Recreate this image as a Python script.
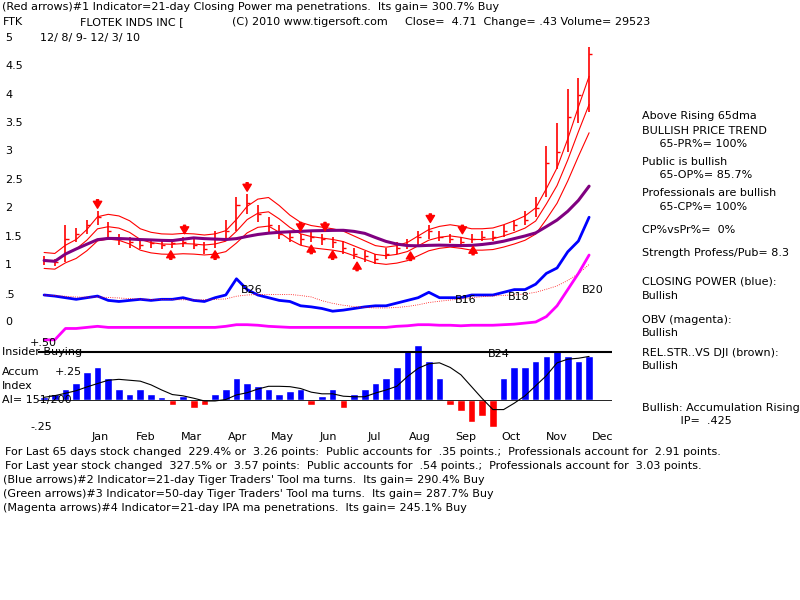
import numpy as np, pandas as pd, matplotlib
matplotlib.use("Agg")
import matplotlib.pyplot as plt, seaborn as sns

weeks = pd.date_range("2009-12-08", periods=52, freq="7D")
close = [1.08,1.05,1.45,1.55, 1.7,1.85,1.6,1.45, 1.4,1.35,1.38,1.35, 1.38,1.4,1.35,1.28,1.45,
         1.6,2.05,2.1,1.9, 1.7,1.55,1.5,1.45,1.5, 1.45,1.4,1.3,1.2, 1.15,1.1,1.2,1.3,
         1.35,1.5,1.6,1.5,1.45, 1.4,1.45,1.5,1.5, 1.6,1.7,1.8,2.0, 2.8,3.0,3.6,4.0,4.71]
high = [1.15,1.1,1.7,1.65, 1.8,1.95,1.75,1.55, 1.5,1.45,1.45,1.45, 1.45,1.5,1.45,1.4,1.6,
        1.8,2.2,2.25,2.05, 1.85,1.7,1.6,1.55,1.6, 1.55,1.5,1.42,1.3, 1.25,1.2,1.3,1.4,
        1.45,1.6,1.7,1.6,1.55, 1.5,1.55,1.6,1.6, 1.7,1.8,1.95,2.2, 3.1,3.5,4.1,4.3,4.85]
low = [1.0,0.98,1.05,1.4, 1.55,1.7,1.45,1.35, 1.3,1.28,1.3,1.28, 1.3,1.32,1.28,1.2,1.3,
       1.45,1.6,1.9,1.75, 1.55,1.45,1.4,1.35,1.4, 1.35,1.3,1.2,1.1, 1.05,1.02,1.1,1.2,
       1.28,1.35,1.45,1.42,1.38, 1.35,1.38,1.42,1.42, 1.5,1.6,1.7,1.85, 2.2,2.7,3.0,3.5,3.7]
cp = [0.5,0.48,0.45,0.42, 0.45,0.48,0.4,0.38, 0.4,0.42,0.4,0.42, 0.42,0.45,0.4,0.38,0.45,
      0.5,0.8,0.6,0.5, 0.45,0.4,0.38,0.3,0.28, 0.25,0.2,0.22,0.25, 0.28,0.3,0.3,0.35,
      0.4,0.45,0.55,0.45,0.45, 0.45,0.5,0.5,0.5, 0.55,0.6,0.6,0.7, 0.9,1.0,1.3,1.5,1.94]
obv = [-0.33,-0.33,-0.12,-0.12, -0.1,-0.08,-0.1,-0.1, -0.1,-0.1,-0.1,-0.1, -0.1,-0.1,-0.1,-0.1,-0.1,
       -0.08,-0.05,-0.05,-0.06, -0.08,-0.09,-0.1,-0.1,-0.1, -0.1,-0.1,-0.1,-0.1, -0.1,-0.1,-0.1,-0.08,
       -0.07,-0.05,-0.05,-0.06,-0.06, -0.07,-0.06,-0.06,-0.06, -0.05,-0.04,-0.02,0.0, 0.1,0.3,0.6,0.9,1.24]
accum = [0.02,0.05,0.1,0.15, 0.25,0.3,0.2,0.1, 0.05,0.1,0.05,0.02, -0.05,0.03,-0.08,-0.05,0.05,
         0.1,0.2,0.15,0.12, 0.1,0.05,0.08,0.1,-0.05, 0.03,0.1,-0.08,0.05, 0.1,0.15,0.2,0.3,
         0.45,0.5,0.35,0.2,-0.05, -0.1,-0.2,-0.15,-0.25, 0.2,0.3,0.3,0.35, 0.4,0.45,0.4,0.35,0.4]
red_down = ["2010-01-12","2010-03-10","2010-04-20","2010-05-25","2010-06-10","2010-08-18","2010-09-08"]
red_up = ["2010-03-01","2010-03-30","2010-06-01","2010-06-15","2010-07-01","2010-08-05","2010-09-15"]
months = ["Jan","Feb","Mar","Apr","May","Jun","Jul","Aug","Sep","Oct","Nov","Dec"]

df = pd.DataFrame({"date": weeks, "close": close, "high": high, "low": low})
df["ma21"] = df["close"].rolling(4, min_periods=1).mean()
df["ma65"] = df["close"].rolling(13, min_periods=1).mean()

sns.set_style("white")
plt.rcParams["text.color"] = "black"
fig = plt.figure(figsize=(8, 6), dpi=100)
ax = fig.add_axes([38/800, 1-435/600, (612-38)/800, 435/600])
PPU = (265 - 38) / 4.0
def p(px): return 1 - (px - 265) / PPU
ax.set_ylim(p(435), p(0))
ax.set_xlim(pd.Timestamp("2009-12-04"), pd.Timestamp("2010-12-15"))
for s in ax.spines.values(): s.set_visible(False)
ax.set_xticks([]); ax.set_yticks([])

ax.vlines(df["date"], df["low"], df["high"], color="red", lw=1.2)
ax.hlines(df["close"], df["date"], df["date"] + pd.Timedelta(days=2), color="red", lw=1)
sns.lineplot(x=df["date"], y=df["ma21"]*1.13, color="red", lw=0.8, ax=ax)
sns.lineplot(x=df["date"], y=df["ma21"]*0.87, color="red", lw=0.8, ax=ax)
sns.lineplot(x=df["date"], y=df["ma21"], color="red", lw=0.8, ax=ax)
sns.lineplot(x=df["date"], y=df["ma65"], color="#800080", lw=2.2, ax=ax)
for d in red_down:
    c = df.iloc[(df["date"] - pd.Timestamp(d)).abs().argmin()]
    ax.annotate("", xy=(pd.Timestamp(d), c["high"]+0.05), xytext=(pd.Timestamp(d), c["high"]+0.2),
                arrowprops=dict(color="red", width=1.5, headwidth=6, headlength=5))
for d in red_up:
    c = df.iloc[(df["date"] - pd.Timestamp(d)).abs().argmin()]
    ax.annotate("", xy=(pd.Timestamp(d), c["low"]-0.05), xytext=(pd.Timestamp(d), c["low"]-0.2),
                arrowprops=dict(color="red", width=1.5, headwidth=6, headlength=5))

cpy = [p(322 - 54*v) for v in cp]
ax.plot(df["date"], cpy, color="blue", lw=2)
ax.plot(df["date"], pd.Series(cpy).rolling(8, min_periods=1).mean(), color="red", lw=0.6, ls=":")
ax.plot(df["date"], [p(322 - 54*v) for v in obv], color="magenta", lw=2)
ax.axhline(p(352), color="black", lw=1.5)
ax.axhline(p(399.5), color="black", lw=0.6)
a0 = p(399.5)
ay = [p(399.5 - 110*a) - a0 for a in accum]
ax.bar(df["date"], ay, bottom=a0, width=5, color=["blue" if v >= 0 else "red" for v in ay])
ax.plot(df["date"], a0 + pd.Series(ay).rolling(6, min_periods=1).mean(), color="black", lw=0.8)
for lab, d, y in [("B26","2010-04-16",290),("B16","2010-09-03",300),("B18","2010-10-08",297),
                  ("B24","2010-09-25",354),("B20","2010-11-25",290)]:
    ax.text(pd.Timestamp(d), p(y), lab, fontsize=8, va="center", color="black")

def t(x, y, s, **kw):
    fig.text(x/800, 1-y/600, s, fontsize=8, va="center", family="DejaVu Sans", color="black", **kw)
for i, m in enumerate(months):
    t(100 + i*45.7, 437, m, ha="center")
for v in [5,4.5,4,3.5,3,2.5,2,1.5,1]:
    t(5, 265 - (v-1)*PPU, f"{v:g}")
t(5, 295, ".5"); t(5, 322, "0"); t(55, 372, "+.25"); t(30, 343, "+.50"); t(30, 427, "-.25")
t(2, 352, "Insider Buying"); t(2, 372, "Accum"); t(2, 386, "Index"); t(2, 400, "AI= 151/200")
t(2, 7, "(Red arrows)#1 Indicator=21-day Closing Power ma penetrations.  Its gain= 300.7% Buy")
t(3, 22, "FTK"); t(80, 22, "FLOTEK INDS INC ["); t(232, 22, "(C) 2010 www.tigersoft.com")
t(405, 22, "Close=  4.71  Change= .43 Volume= 29523"); t(40, 38, "12/ 8/ 9- 12/ 3/ 10")
right = [(116,"Above Rising 65dma"),(131,"BULLISH PRICE TREND"),(144,"     65-PR%= 100%"),
         (162,"Public is bullish"),(175,"     65-OP%= 85.7%"),(193,"Professionals are bullish"),
         (207,"     65-CP%= 100%"),(230,"CP%vsPr%=  0%"),(253,"Strength Profess/Pub= 8.3"),
         (282,"CLOSING POWER (blue):"),(296,"Bullish"),(320,"OBV (magenta):"),(333,"Bullish"),
         (353,"REL.STR..VS DJI (brown):"),(366,"Bullish"),(408,"Bullish: Accumulation Rising"),
         (421,"           IP=  .425")]
for y, s in right: t(642, y, s)
bottom = [(452,"For Last 65 days stock changed  229.4% or  3.26 points:  Public accounts for  .35 points.;  Professionals account for  2.91 points."),
          (466,"For Last year stock changed  327.5% or  3.57 points:  Public accounts for  .54 points.;  Professionals account for  3.03 points."),
          (480,"(Blue arrows)#2 Indicator=21-day Tiger Traders' Tool ma turns.  Its gain= 290.4% Buy"),
          (494,"(Green arrows)#3 Indicator=50-day Tiger Traders' Tool ma turns.  Its gain= 287.7% Buy"),
          (508,"(Magenta arrows)#4 Indicator=21-day IPA ma penetrations.  Its gain= 245.1% Buy")]
for y, s in bottom: t(3 if y > 470 else 5, y, s)
fig.savefig("out.png", dpi=100, facecolor="white")
